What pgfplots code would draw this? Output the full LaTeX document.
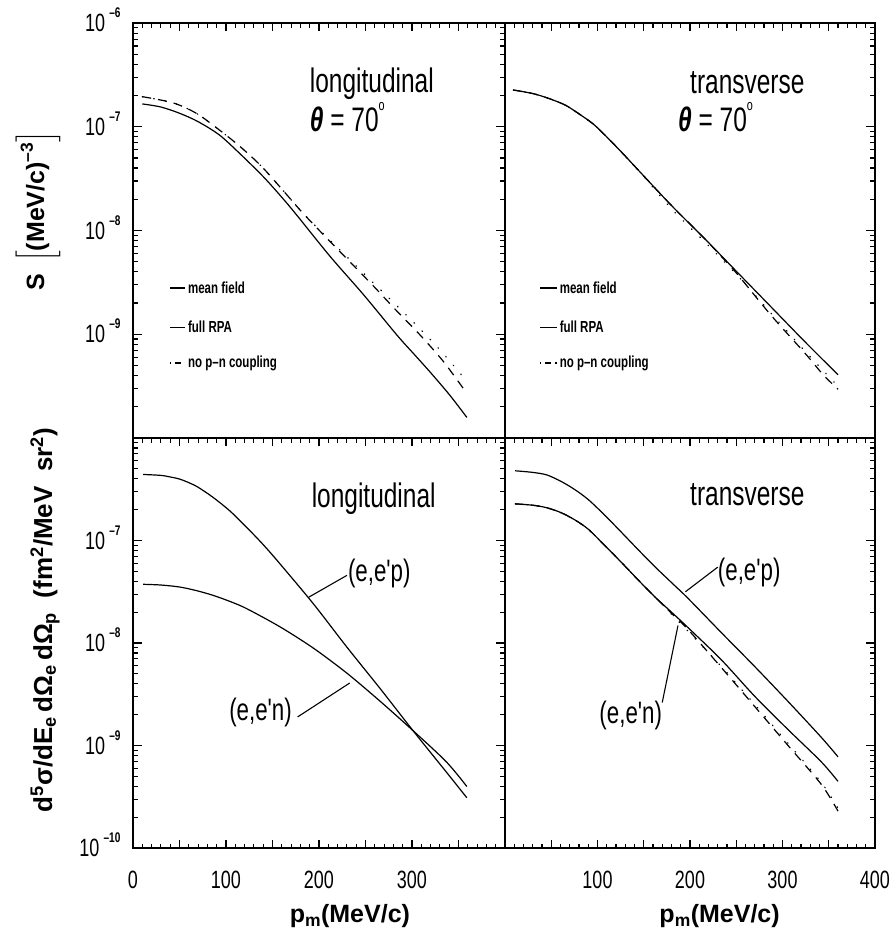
\documentclass[border=0pt]{standalone}
\usepackage{amsmath}
\usepackage{fontspec}
\setmainfont{Liberation Sans}
\newfontfamily\cond[FakeStretch=0.72]{Liberation Sans}
\usepackage{pgfplots}
\pgfplotsset{compat=1.18}

% tick label 10^-n in the plot's own style
\newcommand\tlab[1]{10\,\smash{\raisebox{1.05ex}{\fontsize{14}{14}\selectfont\bfseries –#1}}}
\newcommand\degr{\raisebox{1.15ex}{\fontsize{15}{15}\selectfont o}}

% tick marks along the frame (drawn inward)
\newcommand\xtop{%
  \pgfplotsinvokeforeach{0,10,...,400}{\draw[tk] (axis cs:##1,1e-6) -- ++(0pt,-4.5pt);}%
  \pgfplotsinvokeforeach{0,50,...,400}{\draw[tk] (axis cs:##1,1e-6) -- ++(0pt,-8pt);}}
\newcommand\xbot{%
  \pgfplotsinvokeforeach{0,10,...,400}{\draw[tk] (axis cs:##1,1e-10) -- ++(0pt,4.5pt);}%
  \pgfplotsinvokeforeach{0,50,...,400}{\draw[tk] (axis cs:##1,1e-10) -- ++(0pt,8pt);}}
\newcommand\yside[2]{% #1 x of the edge, #2 direction
  \pgfplotsinvokeforeach{2,...,9}{%
    \draw[tk] (axis cs:#1,##1e-10) -- ++(#2*5pt,0pt);
    \draw[tk] (axis cs:#1,##1e-9) -- ++(#2*5pt,0pt);
    \draw[tk] (axis cs:#1,##1e-8) -- ++(#2*5pt,0pt);
    \draw[tk] (axis cs:#1,##1e-7) -- ++(#2*5pt,0pt);}%
  \pgfplotsinvokeforeach{1e-10,1e-9,1e-8,1e-7,1e-6}{\draw[tk] (axis cs:#1,##1) -- ++(#2*9pt,0pt);}}

\pgfplotsset{
  mypanel/.style={
    scale only axis, xmin=0, xmax=400,
    ymin=1e-10, ymax=1e-6,
    clip mode=individual,
    xtick={0,50,...,400}, minor x tick num=4,
    ytick={1e-10,1e-9,1e-8,1e-7,1e-6},
    minor ytick={2e-10,3e-10,4e-10,5e-10,6e-10,7e-10,8e-10,9e-10,
                 2e-9,3e-9,4e-9,5e-9,6e-9,7e-9,8e-9,9e-9,
                 2e-8,3e-8,4e-8,5e-8,6e-8,7e-8,8e-8,9e-8,
                 2e-7,3e-7,4e-7,5e-7,6e-7,7e-7,8e-7,9e-7},
    tickwidth=8pt, subtickwidth=4.5pt,
    tick style={black, line width=1.1pt},
    axis line style={line width=1.6pt},
    ticklabel style={font=\cond\fontsize{25}{25}\selectfont},
    xticklabel style={yshift=-19pt},
    yticklabel style={xshift=-9pt},
  },
}
\tikzset{
  tk/.style={black, line width=1.1pt},
  crpa/.style={black, line width=1.2pt, smooth},
  cmf/.style={black, line width=1.2pt, smooth, dash pattern=on 9pt off 7pt},
  cnpn/.style={black, line width=1.3pt, smooth, line cap=round, dash pattern=on 0.6pt off 11pt},
  tbig/.style={font=\cond\fontsize{34}{34}\selectfont, inner sep=0pt},
  tlab/.style={font=\cond\fontsize{31}{31}\selectfont, inner sep=0pt},
  tleg/.style={font=\cond\bfseries\fontsize{16}{16}\selectfont, inner sep=0pt, anchor=west},
  alab/.style={font=\bfseries\fontsize{25}{25}\selectfont, inner sep=0pt},
}

\begin{document}
\begin{tikzpicture}
\useasboundingbox (-133pt,-82pt) rectangle (760pt,848pt);

% ---------------- top left: longitudinal S ----------------
\begin{semilogyaxis}[mypanel, at={(0pt,410pt)}, anchor=south west, width=372pt, height=415pt,
  xtick pos=right, xticklabels={,,,,,,,,},
  yticklabels={,\tlab{9},\tlab{8},\tlab{7},\tlab{6}}]
\addplot[crpa] coordinates {
 (10,1.66e-7) (30,1.55e-7) (50,1.35e-7) (70,1.12e-7) (93,8.32e-8) (115,5.50e-8)
 (140,3.31e-8) (160,2.09e-8) (176,1.41e-8) (212,5.62e-9) (248,2.40e-9)
 (284,9.77e-10) (302,6.46e-10) (319,4.37e-10) (340,2.63e-10) (359,1.58e-10)};
\addplot[cmf] coordinates {
 (10,1.95e-7) (43,1.70e-7) (68,1.35e-7) (92,9.44e-8) (115,6.46e-8) (138,4.17e-8)
 (160,2.51e-8) (183,1.46e-8) (208,8.51e-9) (233,5.01e-9) (258,2.95e-9)
 (283,1.70e-9) (309,9.77e-10) (334,5.43e-10) (359,2.69e-10)};
\addplot[cnpn] coordinates {
 (10,1.95e-7) (43,1.70e-7) (68,1.35e-7) (92,9.44e-8) (115,6.46e-8) (138,4.17e-8)
 (160,2.51e-8) (183,1.46e-8) (208,8.71e-9) (233,5.25e-9) (258,3.16e-9)
 (283,1.91e-9) (309,1.12e-9) (334,6.46e-10) (359,3.51e-10)};
\xtop \yside{0}{1} \yside{400}{-1}
\node[tbig, anchor=base west] at (axis cs:190,2.16e-7) {longitudinal};
\node[tbig, anchor=base west] at (axis cs:190,9.1e-8) {{\bfseries\itshape θ} = 70\degr};
\draw[line width=1.2pt] (axis cs:40,2.79e-9) -- (axis cs:56,2.79e-9);
\node[tleg] at (axis cs:59,2.79e-9) {mean field};
\draw[line width=1.2pt] (axis cs:40,1.17e-9) -- (axis cs:56,1.17e-9);
\node[tleg] at (axis cs:59,1.17e-9) {full RPA};
\draw[line width=1.2pt, dash pattern=on 1.2pt off 4pt on 6pt off 4pt] (axis cs:40,5.28e-10) -- (axis cs:56,5.28e-10);
\node[tleg] at (axis cs:59,5.28e-10) {no p–n coupling};
\node[alab, rotate=90] at ([xshift=-95pt]rel axis cs:0,0.548)
  {S\, $\Big[\text{(MeV/c)}^{\text{–3}}\Big]$};
\end{semilogyaxis}

% ---------------- top right: transverse S ----------------
\begin{semilogyaxis}[mypanel, at={(372pt,410pt)}, anchor=south west, width=370pt, height=415pt,
  xtick pos=right, xticklabels={,,,,,,,,},
  ytick pos=right, yticklabels={,,,,}]
\addplot[crpa] coordinates {
 (9,2.26e-7) (30,2.09e-7) (47,1.88e-7) (65,1.62e-7) (79,1.35e-7) (95,1.07e-7)
 (108,8.32e-8) (126,5.69e-8) (144,3.83e-8) (180,1.74e-8) (216,8.32e-9)
 (252,3.89e-9) (288,1.82e-9) (324,8.51e-10) (360,4.07e-10)};
\addplot[cmf] coordinates {
 (9,2.26e-7) (30,2.09e-7) (47,1.88e-7) (65,1.62e-7) (79,1.35e-7) (95,1.07e-7)
 (108,8.32e-8) (126,5.69e-8) (144,3.83e-8) (180,1.74e-8) (216,8.32e-9)
 (240,4.90e-9) (252,3.72e-9) (288,1.51e-9) (324,6.61e-10) (344,4.07e-10) (360,2.95e-10)};
\addplot[cnpn] coordinates {
 (9,2.26e-7) (30,2.09e-7) (47,1.88e-7) (65,1.62e-7) (79,1.35e-7) (95,1.07e-7)
 (108,8.32e-8) (126,5.69e-8) (144,3.83e-8) (180,1.62e-8) (216,7.76e-9)
 (252,3.63e-9) (288,1.58e-9) (324,6.92e-10) (360,3.16e-10)};
\xtop \yside{400}{-1}
\node[tbig, anchor=base west] at (axis cs:200,2.11e-7) {transverse};
\node[tbig, anchor=base west] at (axis cs:187,9.1e-8) {{\bfseries\itshape θ} = 70\degr};
\draw[line width=1.2pt] (axis cs:38,2.79e-9) -- (axis cs:56,2.79e-9);
\node[tleg] at (axis cs:59,2.79e-9) {mean field};
\draw[line width=1.2pt] (axis cs:38,1.17e-9) -- (axis cs:56,1.17e-9);
\node[tleg] at (axis cs:59,1.17e-9) {full RPA};
\draw[line width=1.2pt, dash pattern=on 1.2pt off 4pt on 6pt off 4pt] (axis cs:38,5.28e-10) -- (axis cs:56,5.28e-10);
\node[tleg] at (axis cs:59,5.28e-10) {no p–n coupling};
\end{semilogyaxis}

% ---------------- bottom left: longitudinal cross sections ----------------
\begin{semilogyaxis}[mypanel, at={(0pt,0pt)}, anchor=south west, width=372pt, height=410pt,
  xtick pos=both, xticklabels={0,,100,,200,,300,,},
  yticklabels={\tlab{10},\tlab{9},\tlab{8},\tlab{7},}]
\addplot[crpa] coordinates {
 (11,4.41e-7) (30,4.32e-7) (40,4.17e-7) (50,3.98e-7) (60,3.67e-7) (70,3.31e-7)
 (86,2.64e-7) (104,1.95e-7) (122,1.35e-7) (140,9.12e-8) (158,5.93e-8)
 (194,2.41e-8) (230,9.12e-9) (266,3.57e-9) (301,1.40e-9) (337,5.50e-10) (359,3.09e-10)};
\addplot[crpa] coordinates {
 (11,3.74e-8) (30,3.68e-8) (50,3.52e-8) (68,3.25e-8) (86,2.92e-8) (104,2.55e-8)
 (122,2.17e-8) (158,1.44e-8) (194,8.91e-9) (230,5.08e-9) (266,2.69e-9)
 (301,1.40e-9) (337,6.92e-10) (359,3.98e-10)};
\xtop \xbot \yside{0}{1} \yside{400}{-1}
\node[tbig, anchor=base west] at (axis cs:192,2.1e-7) {longitudinal};
\node[tlab, anchor=west] at (axis cs:231,4.79e-8) {(e,e'p)};
\draw[line width=1.1pt] (axis cs:189,2.80e-8) -- (axis cs:230,4.57e-8);
\node[tlab, anchor=east] at (axis cs:171,2.09e-9) {(e,e'n)};
\draw[line width=1.1pt] (axis cs:177,1.9e-9) -- (axis cs:233,4.07e-9);
\node[alab, font=\bfseries\fontsize{26}{26}\selectfont, rotate=90] at ([xshift=-88pt]rel axis cs:0,0.556)
  {d\textsuperscript{5}σ/dE\textsubscript{e}\,dΩ\textsubscript{e}\,dΩ\textsubscript{p}\ \ (fm\textsuperscript{2}/MeV\ \ sr\textsuperscript{2})};
\node[alab, anchor=north] at ([yshift=-56pt]rel axis cs:0.583,0)
  {p\textsubscript{m}(MeV/c)};
\end{semilogyaxis}

% ---------------- bottom right: transverse cross sections ----------------
\begin{semilogyaxis}[mypanel, at={(372pt,0pt)}, anchor=south west, width=370pt, height=410pt,
  xtick pos=both, xticklabels={,,100,,200,,300,,400},
  ytick pos=right, yticklabels={,,,,}]
\addplot[crpa] coordinates {
 (11,4.79e-7) (30,4.62e-7) (45,4.37e-7) (60,3.80e-7) (75,3.16e-7) (90,2.51e-7)
 (108,1.76e-7) (126,1.20e-7) (144,8.13e-8) (162,5.56e-8) (180,3.89e-8)
 (198,2.72e-8) (234,1.26e-8) (270,5.89e-9) (306,2.69e-9) (342,1.20e-9) (360,7.76e-10)};
\addplot[crpa] coordinates {
 (11,2.28e-7) (30,2.21e-7) (45,2.09e-7) (60,1.88e-7) (75,1.60e-7) (90,1.29e-7)
 (108,8.91e-8) (126,6.10e-8) (144,4.12e-8) (162,2.82e-8) (180,2.00e-8)
 (198,1.41e-8) (234,6.84e-9) (270,3.02e-9) (306,1.43e-9) (342,6.92e-10) (360,4.47e-10)};
\addplot[cmf] coordinates {
 (11,2.28e-7) (30,2.21e-7) (45,2.09e-7) (60,1.88e-7) (75,1.60e-7) (90,1.29e-7)
 (108,8.91e-8) (126,6.10e-8) (144,4.12e-8) (162,2.82e-8) (180,1.95e-8)
 (198,1.35e-8) (234,5.75e-9) (270,2.40e-9) (306,1.00e-9) (342,4.17e-10) (360,2.29e-10)};
\addplot[cnpn] coordinates {
 (11,2.28e-7) (30,2.21e-7) (45,2.09e-7) (60,1.88e-7) (75,1.60e-7) (90,1.29e-7)
 (108,8.91e-8) (126,6.10e-8) (144,4.12e-8) (162,2.82e-8) (180,1.91e-8)
 (198,1.30e-8) (234,5.89e-9) (270,2.51e-9) (306,1.05e-9) (342,4.37e-10) (360,2.45e-10)};
\xtop \xbot \yside{400}{-1}
\node[tbig, anchor=base west] at (axis cs:200,2.19e-7) {transverse};
\node[tlab, anchor=west] at (axis cs:230,4.9e-8) {(e,e'p)};
\draw[line width=1.1pt] (axis cs:195,3.16e-8) -- (axis cs:230,5.5e-8);
\node[tlab, anchor=east] at (axis cs:170,1.95e-9) {(e,e'n)};
\draw[line width=1.1pt] (axis cs:170,2.63e-9) -- (axis cs:187,1.48e-8);
\node[alab, anchor=north] at ([yshift=-56pt]rel axis cs:0.58,0)
  {p\textsubscript{m}(MeV/c)};
\end{semilogyaxis}
\end{tikzpicture}
\end{document}
